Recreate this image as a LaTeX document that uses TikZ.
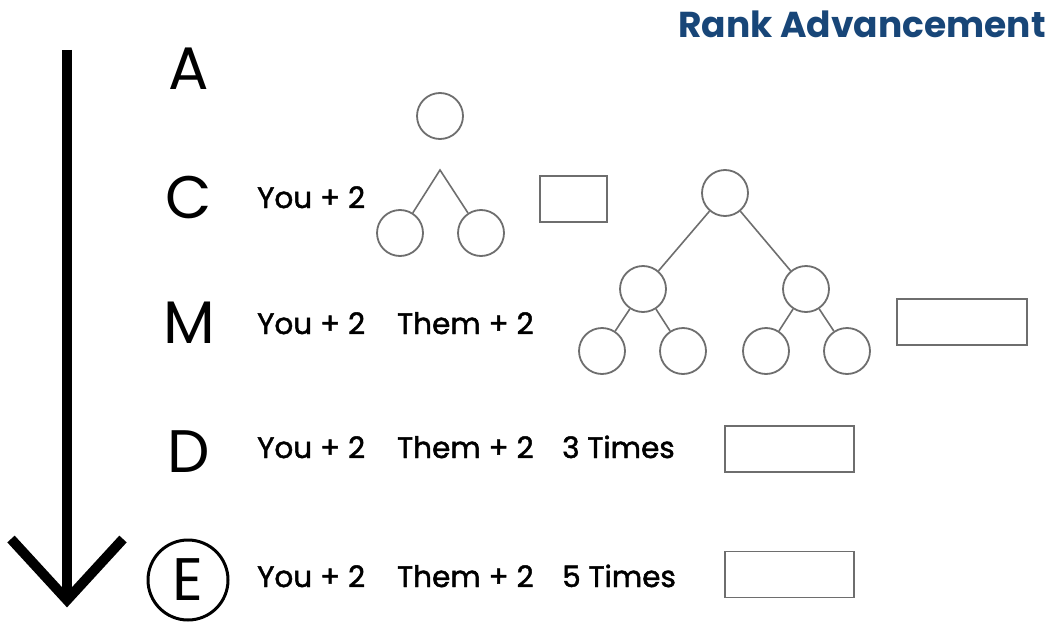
\documentclass[tikz,border=0pt]{standalone}
\usepackage{fontspec}
\setmainfont{Poppins}
\newfontfamily\rulefont{Poppins}[FakeBold=1.6]
\definecolor{rankblue}{RGB}{24,70,120}
\definecolor{linegray}{RGB}{110,110,110}

\tikzset{
  member/.style={circle, draw=linegray, line width=1.8pt, fill=white,
    minimum size=46pt, inner sep=0pt},
  slot/.style={draw=linegray, line width=1.8pt, minimum height=46pt,
    inner sep=0pt},
  rank/.style={font=\fontsize{60}{60}\selectfont, inner sep=0pt},
  rule/.style={anchor=base west, inner sep=0pt,
    font=\fontsize{29.5}{30}\rulefont},
  link/.style={draw=linegray, line width=1.6pt},
}

\begin{document}
\begin{tikzpicture}[x=1pt, y=-1pt]
  \useasboundingbox (0,0) rectangle (1059,623);

  % title
  \node[anchor=base east, inner sep=0pt, text=rankblue,
    font=\fontsize{36}{36}\selectfont\bfseries] (title) at (1046,38)
    {Rank Advancement};

  % the long arrow
  \coordinate (top) at (67,50);
  \coordinate (tip) at (67,600);
  \draw[line width=10pt] (top) -- (tip);
  \draw[line width=10pt, line join=miter] (tip) ++(-56,-61) -- (tip) -- ++(56,-61);

  % ranks
  \foreach \r/\y in {A/69, C/197, M/323, D/452} {
    \node[rank] (rank-\r) at (189,\y) {\r};
  }
  \node[rank, circle, draw, line width=3pt, minimum size=80pt] (rank-E)
    at (188,580) {E};

  % what each rank asks for
  \node[rule] (you-c) at (257,208) {You + 2};
  \foreach \r/\y in {m/334, d/458, e/587} {
    \node[rule] (you-\r) at (257,\y) {You + 2};
    \node[rule] (them-\r) at (397,\y) {Them + 2};
  }
  \node[rule] (times-d) at (562,458) {3 Times};
  \node[rule] (times-e) at (562,587) {5 Times};

  % small tree
  \node[member] (c-top) at (440,116) {};
  \coordinate (c-fork) at (440,170);
  \node[member] (c-left) at (400,233) {};
  \node[member] (c-right) at (481,233) {};
  \draw[link] (c-left) -- (c-fork) -- (c-right);

  % big tree
  \node[member] (m-root) at (725,193) {};
  \node[member] (m-l) at (643,289) {};
  \node[member] (m-r) at (806,289) {};
  \node[member] (m-ll) at (602,351) {};
  \node[member] (m-lr) at (683,351) {};
  \node[member] (m-rl) at (766,351) {};
  \node[member] (m-rr) at (847,351) {};
  \draw[link] (m-root) -- (m-l);
  \draw[link] (m-root) -- (m-r);
  \draw[link] (m-l) -- (m-ll);
  \draw[link] (m-l) -- (m-lr);
  \draw[link] (m-r) -- (m-rl);
  \draw[link] (m-r) -- (m-rr);

  % boxes
  \node[slot, minimum width=67pt] (c-box) at (573.5,199) {};
  \node[slot, minimum width=130pt] (m-box) at (962,322) {};
  \node[slot, minimum width=129pt] (d-box) at (789.5,449) {};
  \node[slot, minimum width=129pt] (e-box) at (789.5,574.5) {};
\end{tikzpicture}
\end{document}
